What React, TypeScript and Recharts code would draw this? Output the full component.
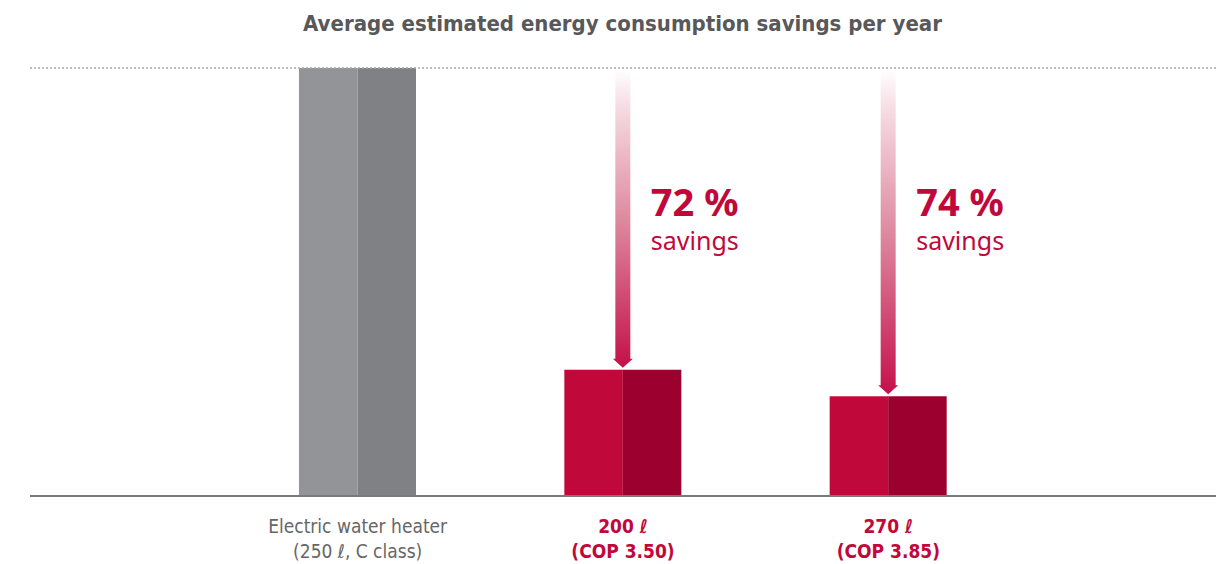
import { Bar, BarChart, LabelList, ReferenceLine, XAxis, YAxis } from "recharts"

// categories (two lines each under the axis)
const labelTop = ["Electric water heater", "200 ℓ", "270 ℓ"]
const labelBottom = ["(250 ℓ, C class)", "(COP 3.50)", "(COP 3.85)"]
// relative yearly energy use, electric heater = 100
const consumption = [100, 29.5, 23.3]
const savings = ["", "72 %", "74 %"]

const Y_MAX = 100
const lightFill = ["#939498", "#c1083b", "#c1083b"]
const darkFill = ["#808185", "#9b002e", "#9b002e"]
const tickColor = ["#666666", "#c1083b", "#c1083b"]
const RED = "#c1083b"
const NARROW = "'Liberation Sans Narrow', 'DejaVu Sans Condensed', 'Noto Sans', sans-serif"
const SANS = "'Noto Sans', 'Open Sans', sans-serif"

const data = labelTop.map((name, i) => ({
  name,
  sub: labelBottom[i],
  value: consumption[i],
  saving: savings[i],
}))

// two-tone bar: lighter left half, darker right half
function TwoToneBar(props: any) {
  const { x, y, width, height, index } = props
  const half = width / 2
  return (
    <g>
      <rect x={x} y={y} width={half} height={height} fill={lightFill[index]} />
      <rect x={x + half} y={y} width={width - half} height={height} fill={darkFill[index]} />
    </g>
  )
}

// arrow from the reference level down to the bar top, plus the savings text
function SavingsArrow(props: any) {
  const { x, y, width, height, value, index } = props
  const saving = savings[index]
  if (!saving) return null
  const cx = x + width / 2
  const top = y + height - (height * Y_MAX) / Number(value) + 1
  const tip = y - 2
  const base = tip - 9
  const d = `M${cx - 7.5},${top} L${cx + 7.5},${top} L${cx + 7.5},${base} L${cx + 10},${base} L${cx},${tip} L${cx - 10},${base} L${cx - 7.5},${base} Z`
  return (
    <g>
      <defs>
        <linearGradient id={`arrowGrad${index}`} x1="0" y1="0" x2="0" y2="1">
          <stop offset="0%" stopColor="#ffffff" />
          <stop offset="12%" stopColor="#f6dde4" />
          <stop offset="50%" stopColor="#de8aa1" />
          <stop offset="100%" stopColor="#c4104a" />
        </linearGradient>
      </defs>
      <path d={d} fill={`url(#arrowGrad${index})`} />
      <text x={cx + 28} y={top + 147} fill={RED} fontFamily={SANS} fontWeight={700} fontSize={38}>
        {saving}
      </text>
      <text x={cx + 28} y={top + 181} fill={RED} fontFamily={SANS} fontSize={25}>
        savings
      </text>
    </g>
  )
}

function CategoryTick(props: any) {
  const { x, y, payload, index } = props
  const i = index ?? labelTop.indexOf(payload.value)
  const bold = i > 0
  return (
    <g>
      <text x={x} y={y + 37} textAnchor="middle" fill={tickColor[i]} fontFamily={NARROW}
        fontWeight={bold ? 700 : 400} fontSize={19}>
        {labelTop[i]}
      </text>
      <text x={x} y={y + 62} textAnchor="middle" fill={tickColor[i]} fontFamily={NARROW}
        fontWeight={bold ? 700 : 400} fontSize={19}>
        {labelBottom[i]}
      </text>
    </g>
  )
}

export default function App() {
  return (
    <div style={{ position: "absolute", left: 0, top: 0, width: 1226, height: 564, background: "#fff" }}>
      <div
        style={{
          position: "absolute",
          left: 0,
          top: 9,
          width: 1245,
          textAlign: "center",
          fontFamily: NARROW,
          fontWeight: 700,
          fontSize: 22,
          color: "#58585a",
          lineHeight: "30px",
        }}
      >
        Average estimated energy consumption savings per year
      </div>
      <BarChart
        width={1226}
        height={564}
        data={data}
        margin={{ top: 68, right: 10, left: 30, bottom: 0 }}
        barCategoryGap={0}
      >
        <YAxis hide domain={[0, Y_MAX]} />
        <XAxis
          dataKey="name"
          height={68}
          padding={{ left: 195, right: 195 }}
          axisLine={{ stroke: "#7a7a7a", strokeWidth: 2 }}
          tickLine={false}
          tickSize={0}
          tickMargin={0}
          interval={0}
          tick={<CategoryTick />}
        />
        <ReferenceLine y={Y_MAX} stroke="#a8a8a8" strokeDasharray="2 2" strokeWidth={1.5} ifOverflow="extendDomain" />
        <Bar dataKey="value" barSize={117} shape={<TwoToneBar />} isAnimationActive={false}>
          <LabelList dataKey="value" content={<SavingsArrow />} />
        </Bar>
      </BarChart>
    </div>
  )
}
